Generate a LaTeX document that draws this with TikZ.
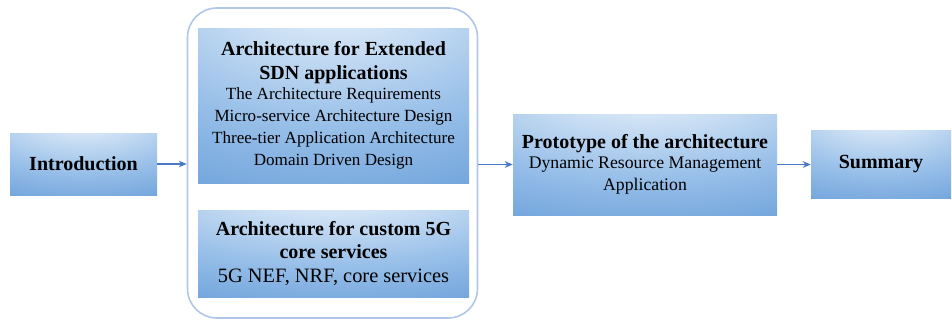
\documentclass[tikz,border=0pt]{standalone}
\usepackage{fontspec}
\setmainfont{Liberation Serif}
\usetikzlibrary{arrows.meta}
\definecolor{boxlight}{RGB}{230,240,250}
\definecolor{boxmid}{RGB}{150,190,232}
\definecolor{boxdark}{RGB}{82,142,210}
\definecolor{boxdeep}{RGB}{62,124,198}
\definecolor{framecol}{RGB}{176,198,232}
\definecolor{arrowcol}{RGB}{72,120,200}
\pgfdeclareradialshading{topglow}{\pgfpoint{0bp}{45bp}}{%
  color(0bp)=(boxlight); color(8bp)=(boxlight); color(40bp)=(boxmid); color(75bp)=(boxdark); color(110bp)=(boxdeep); color(140bp)=(boxdeep)}
\newcommand{\subA}{\fontsize{12.8}{15}\selectfont\mdseries}
\newcommand{\subB}{\fontsize{15.3}{18}\selectfont\mdseries}
\newcommand{\subC}{\fontsize{13.3}{13.5}\selectfont\mdseries}
\tikzset{
  gbox/.style={shading=topglow, draw=none, align=center, inner sep=0pt,
    font=\fontsize{15}{17.5}\selectfont\bfseries},
  frame/.style={draw=framecol, line width=1.2pt, rounded corners=22pt},
  conn/.style={draw=arrowcol, line width=1.4pt, -{Stealth[length=6pt,width=5pt]}}
}
\begin{document}
\begin{tikzpicture}[x=0.75pt,y=-0.75pt]
\useasboundingbox (0,0) rectangle (952,322);
\node[frame, minimum width=290*0.75pt, minimum height=310*0.75pt] (big) at (332.5,163) {};
\node[gbox, minimum width=147*0.75pt, minimum height=62*0.75pt] (intro) at (83.5,164) {Introduction};
\node[gbox, minimum width=271*0.75pt, minimum height=155*0.75pt] (sdn) at (333.5,105.5) {Architecture for Extended\\SDN applications\\[-2pt]
  {\subA The Architecture Requirements}\\[-1pt]
  {\subA Micro-service Architecture Design}\\[-1pt]
  {\subA Three-tier Application Architecture}\\[-1pt]
  {\subA Domain Driven Design}};
\node[gbox, minimum width=271*0.75pt, minimum height=87*0.75pt] (fiveg) at (333.5,253.5) {Architecture for custom 5G\\core services\\
  {\subB 5G NEF, NRF, core services}};
\node[gbox, minimum width=264*0.75pt, minimum height=101*0.75pt] (proto) at (645,164.5) {Prototype of the architecture\\[-3pt]
  {\subC Dynamic Resource Management}\\[-1pt]
  {\subC Application}};
\node[gbox, minimum width=140*0.75pt, minimum height=68*0.75pt] (summ) at (881,164) {Summary};
\draw[conn] (intro.east) -- (big.west |- intro.east);
\draw[conn] (big.east |- proto.west) -- (proto.west);
\draw[conn] (proto.east) -- (summ.west |- proto.east);
\end{tikzpicture}
\end{document}
